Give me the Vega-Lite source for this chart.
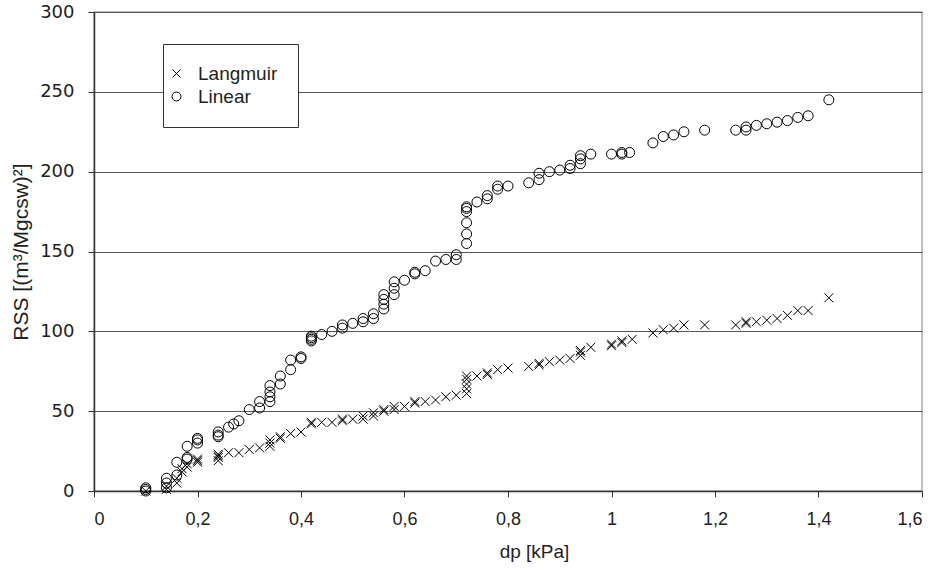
{
  "$schema": "https://vega.github.io/schema/vega-lite/v6.json",
  "autosize": "none",
  "width": 828,
  "height": 479,
  "padding": {"left": 94, "top": 12, "right": 18, "bottom": 79},
  "background": "white",
  "config": {
    "font": "Liberation Sans",
    "view": {"stroke": "#c0c0c0", "strokeWidth": 2}
  },
  "datasets": {
    "pts": [
      {"model": "Langmuir", "dp": 0.10, "rss": 0},
      {"model": "Langmuir", "dp": 0.14, "rss": 1},
      {"model": "Langmuir", "dp": 0.14, "rss": 3},
      {"model": "Langmuir", "dp": 0.16, "rss": 5},
      {"model": "Langmuir", "dp": 0.16, "rss": 8},
      {"model": "Langmuir", "dp": 0.17, "rss": 12},
      {"model": "Langmuir", "dp": 0.17, "rss": 14},
      {"model": "Langmuir", "dp": 0.18, "rss": 15},
      {"model": "Langmuir", "dp": 0.18, "rss": 17},
      {"model": "Langmuir", "dp": 0.20, "rss": 18},
      {"model": "Langmuir", "dp": 0.20, "rss": 19},
      {"model": "Langmuir", "dp": 0.20, "rss": 20},
      {"model": "Langmuir", "dp": 0.24, "rss": 19},
      {"model": "Langmuir", "dp": 0.24, "rss": 21},
      {"model": "Langmuir", "dp": 0.24, "rss": 22},
      {"model": "Langmuir", "dp": 0.24, "rss": 23},
      {"model": "Langmuir", "dp": 0.26, "rss": 24},
      {"model": "Langmuir", "dp": 0.28, "rss": 24},
      {"model": "Langmuir", "dp": 0.30, "rss": 26},
      {"model": "Langmuir", "dp": 0.32, "rss": 27},
      {"model": "Langmuir", "dp": 0.34, "rss": 28},
      {"model": "Langmuir", "dp": 0.34, "rss": 30},
      {"model": "Langmuir", "dp": 0.34, "rss": 32},
      {"model": "Langmuir", "dp": 0.36, "rss": 33},
      {"model": "Langmuir", "dp": 0.36, "rss": 34},
      {"model": "Langmuir", "dp": 0.38, "rss": 36},
      {"model": "Langmuir", "dp": 0.40, "rss": 37},
      {"model": "Langmuir", "dp": 0.42, "rss": 42},
      {"model": "Langmuir", "dp": 0.42, "rss": 43},
      {"model": "Langmuir", "dp": 0.44, "rss": 43},
      {"model": "Langmuir", "dp": 0.46, "rss": 43},
      {"model": "Langmuir", "dp": 0.48, "rss": 44},
      {"model": "Langmuir", "dp": 0.48, "rss": 45},
      {"model": "Langmuir", "dp": 0.50, "rss": 45},
      {"model": "Langmuir", "dp": 0.52, "rss": 45},
      {"model": "Langmuir", "dp": 0.52, "rss": 47},
      {"model": "Langmuir", "dp": 0.54, "rss": 47},
      {"model": "Langmuir", "dp": 0.54, "rss": 49},
      {"model": "Langmuir", "dp": 0.56, "rss": 50},
      {"model": "Langmuir", "dp": 0.56, "rss": 51},
      {"model": "Langmuir", "dp": 0.58, "rss": 51},
      {"model": "Langmuir", "dp": 0.58, "rss": 53},
      {"model": "Langmuir", "dp": 0.60, "rss": 53},
      {"model": "Langmuir", "dp": 0.62, "rss": 55},
      {"model": "Langmuir", "dp": 0.62, "rss": 56},
      {"model": "Langmuir", "dp": 0.64, "rss": 56},
      {"model": "Langmuir", "dp": 0.66, "rss": 57},
      {"model": "Langmuir", "dp": 0.68, "rss": 59},
      {"model": "Langmuir", "dp": 0.70, "rss": 60},
      {"model": "Langmuir", "dp": 0.72, "rss": 61},
      {"model": "Langmuir", "dp": 0.72, "rss": 64},
      {"model": "Langmuir", "dp": 0.72, "rss": 67},
      {"model": "Langmuir", "dp": 0.72, "rss": 70},
      {"model": "Langmuir", "dp": 0.72, "rss": 72},
      {"model": "Langmuir", "dp": 0.74, "rss": 72},
      {"model": "Langmuir", "dp": 0.76, "rss": 73},
      {"model": "Langmuir", "dp": 0.76, "rss": 74},
      {"model": "Langmuir", "dp": 0.78, "rss": 76},
      {"model": "Langmuir", "dp": 0.80, "rss": 77},
      {"model": "Langmuir", "dp": 0.84, "rss": 78},
      {"model": "Langmuir", "dp": 0.86, "rss": 79},
      {"model": "Langmuir", "dp": 0.86, "rss": 80},
      {"model": "Langmuir", "dp": 0.88, "rss": 81},
      {"model": "Langmuir", "dp": 0.90, "rss": 82},
      {"model": "Langmuir", "dp": 0.92, "rss": 83},
      {"model": "Langmuir", "dp": 0.94, "rss": 85},
      {"model": "Langmuir", "dp": 0.94, "rss": 87},
      {"model": "Langmuir", "dp": 0.94, "rss": 88},
      {"model": "Langmuir", "dp": 0.96, "rss": 90},
      {"model": "Langmuir", "dp": 1.00, "rss": 91},
      {"model": "Langmuir", "dp": 1.00, "rss": 92},
      {"model": "Langmuir", "dp": 1.02, "rss": 93},
      {"model": "Langmuir", "dp": 1.02, "rss": 94},
      {"model": "Langmuir", "dp": 1.04, "rss": 95},
      {"model": "Langmuir", "dp": 1.08, "rss": 99},
      {"model": "Langmuir", "dp": 1.10, "rss": 101},
      {"model": "Langmuir", "dp": 1.12, "rss": 102},
      {"model": "Langmuir", "dp": 1.14, "rss": 104},
      {"model": "Langmuir", "dp": 1.18, "rss": 104},
      {"model": "Langmuir", "dp": 1.24, "rss": 104},
      {"model": "Langmuir", "dp": 1.26, "rss": 105},
      {"model": "Langmuir", "dp": 1.26, "rss": 106},
      {"model": "Langmuir", "dp": 1.28, "rss": 106},
      {"model": "Langmuir", "dp": 1.30, "rss": 107},
      {"model": "Langmuir", "dp": 1.32, "rss": 108},
      {"model": "Langmuir", "dp": 1.34, "rss": 110},
      {"model": "Langmuir", "dp": 1.36, "rss": 113},
      {"model": "Langmuir", "dp": 1.38, "rss": 113},
      {"model": "Langmuir", "dp": 1.42, "rss": 121},
      {"model": "Linear", "dp": 0.10, "rss": 0},
      {"model": "Linear", "dp": 0.10, "rss": 1},
      {"model": "Linear", "dp": 0.10, "rss": 2},
      {"model": "Linear", "dp": 0.14, "rss": 2},
      {"model": "Linear", "dp": 0.14, "rss": 5},
      {"model": "Linear", "dp": 0.14, "rss": 8},
      {"model": "Linear", "dp": 0.16, "rss": 10},
      {"model": "Linear", "dp": 0.16, "rss": 18},
      {"model": "Linear", "dp": 0.18, "rss": 20},
      {"model": "Linear", "dp": 0.18, "rss": 21},
      {"model": "Linear", "dp": 0.18, "rss": 28},
      {"model": "Linear", "dp": 0.20, "rss": 30},
      {"model": "Linear", "dp": 0.20, "rss": 32},
      {"model": "Linear", "dp": 0.20, "rss": 33},
      {"model": "Linear", "dp": 0.24, "rss": 34},
      {"model": "Linear", "dp": 0.24, "rss": 35},
      {"model": "Linear", "dp": 0.24, "rss": 37},
      {"model": "Linear", "dp": 0.26, "rss": 40},
      {"model": "Linear", "dp": 0.27, "rss": 42},
      {"model": "Linear", "dp": 0.28, "rss": 44},
      {"model": "Linear", "dp": 0.30, "rss": 51},
      {"model": "Linear", "dp": 0.32, "rss": 52},
      {"model": "Linear", "dp": 0.32, "rss": 56},
      {"model": "Linear", "dp": 0.34, "rss": 56},
      {"model": "Linear", "dp": 0.34, "rss": 59},
      {"model": "Linear", "dp": 0.34, "rss": 62},
      {"model": "Linear", "dp": 0.34, "rss": 66},
      {"model": "Linear", "dp": 0.36, "rss": 67},
      {"model": "Linear", "dp": 0.36, "rss": 72},
      {"model": "Linear", "dp": 0.38, "rss": 76},
      {"model": "Linear", "dp": 0.38, "rss": 82},
      {"model": "Linear", "dp": 0.40, "rss": 83},
      {"model": "Linear", "dp": 0.40, "rss": 84},
      {"model": "Linear", "dp": 0.42, "rss": 94},
      {"model": "Linear", "dp": 0.42, "rss": 95},
      {"model": "Linear", "dp": 0.42, "rss": 96},
      {"model": "Linear", "dp": 0.42, "rss": 97},
      {"model": "Linear", "dp": 0.44, "rss": 98},
      {"model": "Linear", "dp": 0.46, "rss": 100},
      {"model": "Linear", "dp": 0.48, "rss": 102},
      {"model": "Linear", "dp": 0.48, "rss": 104},
      {"model": "Linear", "dp": 0.50, "rss": 105},
      {"model": "Linear", "dp": 0.52, "rss": 106},
      {"model": "Linear", "dp": 0.52, "rss": 108},
      {"model": "Linear", "dp": 0.54, "rss": 108},
      {"model": "Linear", "dp": 0.54, "rss": 111},
      {"model": "Linear", "dp": 0.56, "rss": 114},
      {"model": "Linear", "dp": 0.56, "rss": 117},
      {"model": "Linear", "dp": 0.56, "rss": 120},
      {"model": "Linear", "dp": 0.56, "rss": 123},
      {"model": "Linear", "dp": 0.58, "rss": 123},
      {"model": "Linear", "dp": 0.58, "rss": 127},
      {"model": "Linear", "dp": 0.58, "rss": 131},
      {"model": "Linear", "dp": 0.60, "rss": 132},
      {"model": "Linear", "dp": 0.62, "rss": 136},
      {"model": "Linear", "dp": 0.62, "rss": 137},
      {"model": "Linear", "dp": 0.64, "rss": 138},
      {"model": "Linear", "dp": 0.66, "rss": 144},
      {"model": "Linear", "dp": 0.68, "rss": 145},
      {"model": "Linear", "dp": 0.70, "rss": 145},
      {"model": "Linear", "dp": 0.70, "rss": 148},
      {"model": "Linear", "dp": 0.72, "rss": 155},
      {"model": "Linear", "dp": 0.72, "rss": 161},
      {"model": "Linear", "dp": 0.72, "rss": 168},
      {"model": "Linear", "dp": 0.72, "rss": 175},
      {"model": "Linear", "dp": 0.72, "rss": 177},
      {"model": "Linear", "dp": 0.72, "rss": 178},
      {"model": "Linear", "dp": 0.74, "rss": 181},
      {"model": "Linear", "dp": 0.76, "rss": 183},
      {"model": "Linear", "dp": 0.76, "rss": 185},
      {"model": "Linear", "dp": 0.78, "rss": 189},
      {"model": "Linear", "dp": 0.78, "rss": 191},
      {"model": "Linear", "dp": 0.80, "rss": 191},
      {"model": "Linear", "dp": 0.84, "rss": 193},
      {"model": "Linear", "dp": 0.86, "rss": 195},
      {"model": "Linear", "dp": 0.86, "rss": 199},
      {"model": "Linear", "dp": 0.88, "rss": 200},
      {"model": "Linear", "dp": 0.90, "rss": 201},
      {"model": "Linear", "dp": 0.92, "rss": 202},
      {"model": "Linear", "dp": 0.92, "rss": 204},
      {"model": "Linear", "dp": 0.94, "rss": 205},
      {"model": "Linear", "dp": 0.94, "rss": 208},
      {"model": "Linear", "dp": 0.94, "rss": 210},
      {"model": "Linear", "dp": 0.96, "rss": 211},
      {"model": "Linear", "dp": 1.00, "rss": 211},
      {"model": "Linear", "dp": 1.02, "rss": 211},
      {"model": "Linear", "dp": 1.02, "rss": 212},
      {"model": "Linear", "dp": 1.035, "rss": 212},
      {"model": "Linear", "dp": 1.08, "rss": 218},
      {"model": "Linear", "dp": 1.10, "rss": 222},
      {"model": "Linear", "dp": 1.12, "rss": 223},
      {"model": "Linear", "dp": 1.14, "rss": 225},
      {"model": "Linear", "dp": 1.18, "rss": 226},
      {"model": "Linear", "dp": 1.24, "rss": 226},
      {"model": "Linear", "dp": 1.26, "rss": 226},
      {"model": "Linear", "dp": 1.26, "rss": 228},
      {"model": "Linear", "dp": 1.28, "rss": 229},
      {"model": "Linear", "dp": 1.30, "rss": 230},
      {"model": "Linear", "dp": 1.32, "rss": 231},
      {"model": "Linear", "dp": 1.34, "rss": 232},
      {"model": "Linear", "dp": 1.36, "rss": 234},
      {"model": "Linear", "dp": 1.38, "rss": 235},
      {"model": "Linear", "dp": 1.42, "rss": 245}
    ]
  },
  "data": {"name": "pts"},
  "mark": {"type": "point", "filled": false, "stroke": "black", "strokeWidth": 1, "opacity": 1, "size": 100},
  "encoding": {
    "x": {
      "field": "dp", "type": "quantitative",
      "scale": {"domain": [0, 1.6], "nice": false, "zero": false},
      "axis": {
        "title": "dp [kPa]",
        "values": [0, 0.2, 0.4, 0.6, 0.8, 1, 1.2, 1.4, 1.6],
        "labelExpr": "replace(format(datum.value, '.1~f'), '.', ',')",
        "grid": false,
        "domainColor": "#333", "domainWidth": 1.5,
        "tickColor": "#333", "tickSize": 6, "tickWidth": 1,
        "labelFont": "Liberation Sans", "labelFontSize": 18, "labelColor": "#222", "labelPadding": 13,
        "titleFont": "Liberation Sans", "titleFontSize": 19, "titleFontWeight": "normal", "titleColor": "#222", "titlePadding": 14,
        "titleX": 440
      }
    },
    "y": {
      "field": "rss", "type": "quantitative",
      "scale": {"domain": [0, 300], "nice": false},
      "axis": {
        "title": "RSS [(m³/Mgcsw)²]",
        "values": [0, 50, 100, 150, 200, 250, 300],
        "grid": true, "gridColor": "#555", "gridWidth": 1,
        "domainColor": "#333", "domainWidth": 1.5,
        "tickColor": "#333", "tickSize": 6, "tickWidth": 1,
        "labelFont": "DejaVu Sans", "labelFontSize": 18, "labelColor": "#222", "labelPadding": 14,
        "titleFont": "Liberation Sans", "titleFontSize": 21, "titleFontWeight": "normal", "titleColor": "#222", "titlePadding": 8
      }
    },
    "shape": {
      "field": "model", "type": "nominal",
      "scale": {"domain": ["Langmuir", "Linear"], "range": ["M-0.9,-0.9L0.9,0.9M-0.9,0.9L0.9,-0.9", "circle"]},
      "legend": {
        "title": null,
        "orient": "none", "legendX": 69, "legendY": 32,
        "strokeColor": "#333", "fillColor": "white",
        "padding": 20, "rowPadding": 3,
        "symbolStrokeColor": "black", "symbolFillColor": "transparent", "symbolStrokeWidth": 1, "symbolSize": 80,
        "symbolOffset": -16,
        "labelFont": "Liberation Sans", "labelFontSize": 19, "labelColor": "#222", "labelOffset": 12
      }
    }
  }
}
